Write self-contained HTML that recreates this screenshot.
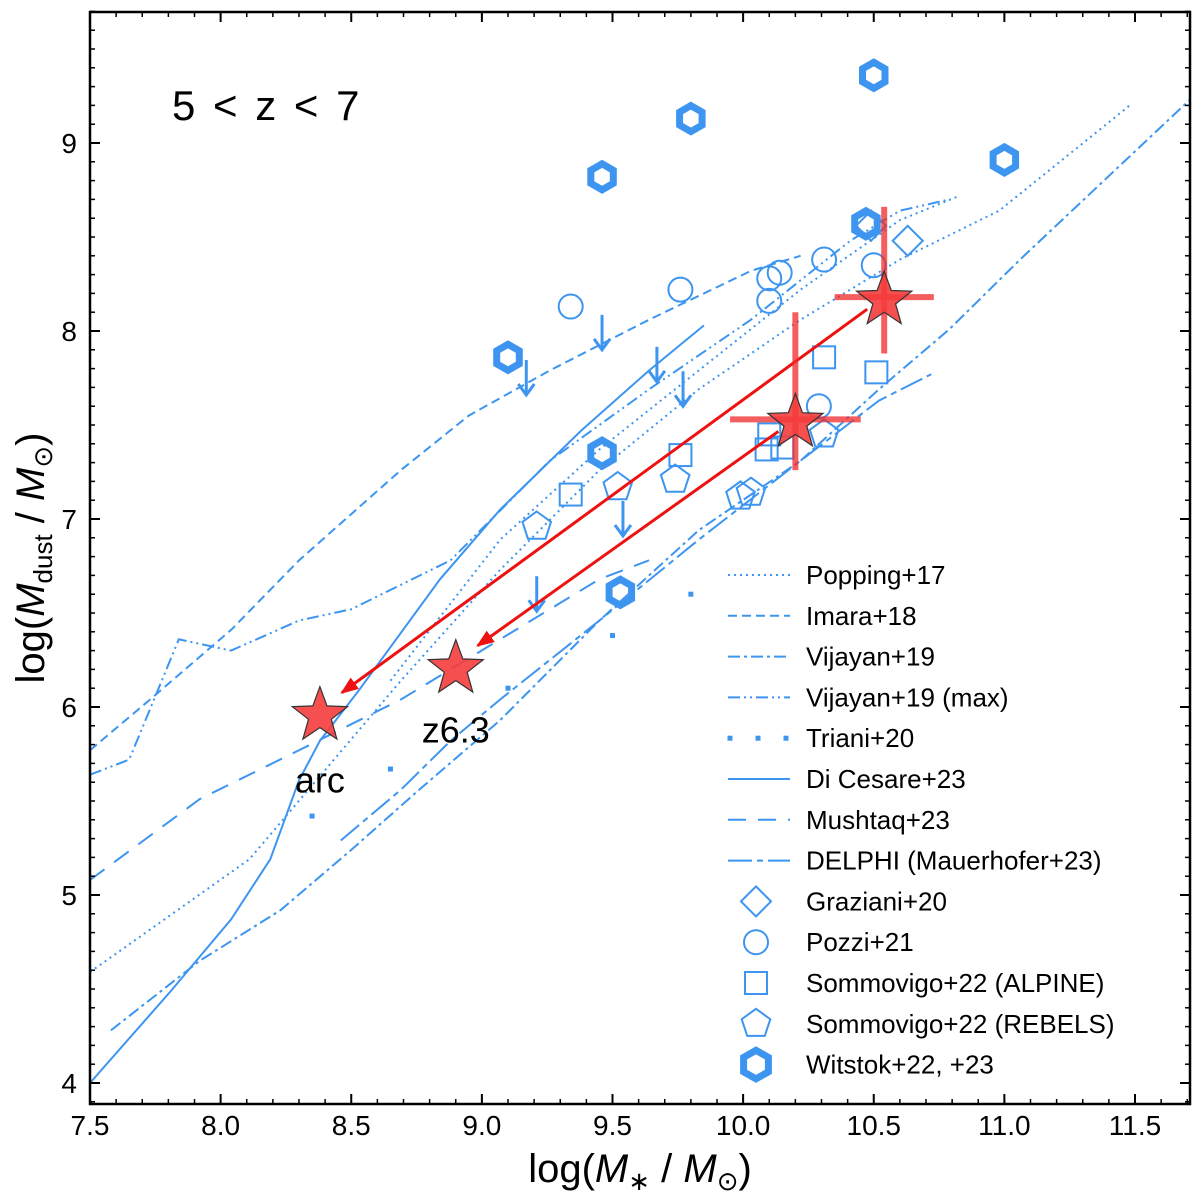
<!DOCTYPE html>
<html><head><meta charset="utf-8"><style>
body{margin:0;background:#fff;}
svg{display:block;font-family:"Liberation Sans","DejaVu Sans",sans-serif;}
</style></head><body>
<svg id="chart" width="1200" height="1198">
<rect x="0" y="0" width="1200" height="1198" fill="#fff"/>
<g id="plot"></g>
<rect x="90" y="12" width="1100" height="1092" fill="none" stroke="#000" stroke-width="2.5"/>
<text x="172" y="120" font-size="42" letter-spacing="3">5 &lt; z &lt; 7</text>
<text x="640" y="1182" font-size="40" text-anchor="middle">log(<tspan font-style="italic">M</tspan><tspan font-size="26" dy="8">∗</tspan><tspan dy="-8"> / </tspan><tspan font-style="italic">M</tspan><tspan font-size="26" dy="8">⊙</tspan><tspan dy="-8">)</tspan></text>
<text transform="translate(44,558) rotate(-90)" font-size="40" text-anchor="middle">log(<tspan font-style="italic">M</tspan><tspan font-size="26" dy="8">dust</tspan><tspan dy="-8"> / </tspan><tspan font-style="italic">M</tspan><tspan font-size="26" dy="8">⊙</tspan><tspan dy="-8">)</tspan></text>
</svg>
<script>
const xTicks=[7.5,8.0,8.5,9.0,9.5,10.0,10.5,11.0,11.5];
const xTickLabels=["7.5","8.0","8.5","9.0","9.5","10.0","10.5","11.0","11.5"];
const yTicks=[4,5,6,7,8,9];
const yTickLabels=["4","5","6","7","8","9"];
const poppingX=[7.5,8.11,8.69,9.07,9.45,9.83,10.22,10.60,10.98,11.48];
const poppingY=[4.59,5.19,6.14,6.73,7.26,7.69,8.06,8.38,8.64,9.20];
const popping2X=[8.65,9.07,9.45,9.83,10.22,10.60,10.83];
const popping2Y=[6.14,6.89,7.37,7.79,8.22,8.59,8.72];
const imaraX=[7.5,7.73,8.04,8.30,8.69,8.95,9.26,9.64,10.03,10.22];
const imaraY=[5.77,6.04,6.41,6.78,7.26,7.55,7.79,8.06,8.32,8.40];
const vijayanX=[7.58,7.92,8.23,8.50,8.76,9.07,9.45,9.83,10.22,10.52,10.79,11.06,11.71];
const vijayanY=[4.28,4.65,4.92,5.24,5.56,5.93,6.46,6.94,7.31,7.69,8.01,8.38,9.23];
const vmaxX=[7.5,7.65,7.84,8.04,8.30,8.50,8.88,9.26,9.64,10.03,10.41,10.60,10.79];
const vmaxY=[5.64,5.72,6.36,6.30,6.46,6.52,6.78,7.31,7.69,8.06,8.48,8.64,8.70];
const dicesareX=[7.5,7.81,8.04,8.19,8.30,8.38,8.53,8.84,9.07,9.38,9.64,9.85];
const dicesareY=[4.0,4.49,4.87,5.19,5.61,5.82,6.09,6.68,7.05,7.47,7.79,8.03];
const mushtaqX=[7.5,7.92,8.30,8.69,9.07,9.45,9.64];
const mushtaqY=[5.08,5.51,5.77,6.04,6.36,6.68,6.78];
const delphiX=[8.46,8.69,8.88,9.07,9.45,9.83,10.22,10.52,10.72];
const delphiY=[5.29,5.56,5.82,6.04,6.46,6.89,7.31,7.63,7.77];
const trianiX=[8.35,8.65,9.1,9.5,9.8];
const trianiY=[5.42,5.67,6.1,6.38,6.6];
const witstokX=[10.50,9.80,9.46,11.0,10.47,9.10,9.46,9.53];
const witstokY=[9.36,9.13,8.82,8.91,8.57,7.86,7.35,6.61];
const pozziX=[9.34,9.76,10.10,10.14,10.10,10.31,10.50,10.29];
const pozziY=[8.13,8.22,8.16,8.31,8.28,8.38,8.35,7.60];
const alpineX=[9.34,9.76,10.31,10.51,10.10,10.15,10.09];
const alpineY=[7.13,7.34,7.86,7.78,7.45,7.38,7.37];
const rebelsX=[9.21,9.52,9.74,9.99,10.03,10.31];
const rebelsY=[6.96,7.17,7.21,7.12,7.14,7.45];
const grazianiX=[10.49,10.63];
const grazianiY=[8.56,8.48];
const limitX=[9.46,9.17,9.67,9.77,9.54,9.21];
const limitY=[7.99,7.75,7.82,7.69,7.0,6.6];
const starX=[8.38,8.90,10.20,10.54];
const starY=[5.97,6.22,7.53,8.18];
const starErrX=[0,0,0.25,0.19];
const starErrYlo=[0,0,0.27,0.30];
const starErrYhi=[0,0,0.57,0.48];

const NS="http://www.w3.org/2000/svg";
const svg=document.getElementById('chart');
const plot=document.getElementById('plot');
const X=v=>90+(v-7.5)*261.25;
const Y=v=>143+(9-v)*188;
const BLUE="#3d95f0";
function mk(tag,attrs,parent){const e=document.createElementNS(NS,tag);for(const k in attrs)e.setAttribute(k,attrs[k]);(parent||plot).appendChild(e);return e;}

const defs=mk('defs',{},svg);
const cp=mk('clipPath',{id:'clip'},defs);
mk('rect',{x:90,y:12,width:1100,height:1092},cp);
plot.setAttribute('clip-path','url(#clip)');

for(let i=0;i<xTicks.length;i++){
  const x=X(xTicks[i]);
  const t=mk('line',{x1:x,x2:x,y1:1104,y2:1094,stroke:'#000','stroke-width':2},svg);
  
  
  mk('line',{x1:x,x2:x,y1:12,y2:22,stroke:'#000','stroke-width':2},svg);
  const l=mk('text',{x:x,y:1135,'font-size':28,'text-anchor':'middle'},svg);
  l.textContent=xTickLabels[i];
  
  
}
for(let v=7.5;v<11.75;v+=0.1){const x=X(v);mk('line',{x1:x,x2:x,y1:1104,y2:1099,stroke:'#000','stroke-width':1.5},svg);mk('line',{x1:x,x2:x,y1:12,y2:17,stroke:'#000','stroke-width':1.5},svg);}
for(let i=0;i<yTicks.length;i++){
  const y=Y(yTicks[i]);
  const t=mk('line',{x1:90,x2:100,y1:y,y2:y,stroke:'#000','stroke-width':2},svg);
  
  
  mk('line',{x1:1190,x2:1180,y1:y,y2:y,stroke:'#000','stroke-width':2},svg);
  const l=mk('text',{x:77,y:y+10,'font-size':28,'text-anchor':'end'},svg);
  l.textContent=yTickLabels[i];
  
  
}
for(let v=3.9;v<9.7;v+=0.1){const y=Y(v);mk('line',{x1:90,x2:95,y1:y,y2:y,stroke:'#000','stroke-width':1.5},svg);mk('line',{x1:1190,x2:1185,y1:y,y2:y,stroke:'#000','stroke-width':1.5},svg);}

function line(xs,ys,dash,name,w){
  const p=mk('polyline',{points:xs.map((v,i)=>X(v)+','+Y(ys[i])).join(' '),fill:'none',stroke:BLUE,'stroke-width':w||2,'stroke-dasharray':dash});
  
  
}
line(poppingX,poppingY,'2,4','popping-line');
line(popping2X,popping2Y,'2,4','popping-line-upper');
line(imaraX,imaraY,'9,5','imara-line');
line(vijayanX,vijayanY,'12,4,3,4','vijayan-line');
line(vmaxX,vmaxY,'12,4,2,4,2,4','vijayan-max-line');
line(dicesareX,dicesareY,'none','dicesare-line');
line(mushtaqX,mushtaqY,'18,12','mushtaq-line');
line(delphiX,delphiY,'24,5,6,5','delphi-line');
for(let i=0;i<trianiX.length;i++){
  const d=mk('rect',{x:X(trianiX[i])-2.5,y:Y(trianiY[i])-2.5,width:5,height:5,fill:BLUE});
  
  
}

function poly(cx,cy,n,r,rot){const pts=[];for(let k=0;k<n;k++){const a=rot+k*2*Math.PI/n;pts.push((cx+r*Math.cos(a)).toFixed(1)+','+(cy+r*Math.sin(a)).toFixed(1));}return pts.join(' ');}
function marker(kind,cx,cy,name,size){
  let e;
  const s=size||1;
  if(kind==='circle')e=mk('circle',{cx,cy,r:12*s,fill:'none',stroke:BLUE,'stroke-width':2});
  else if(kind==='square')e=mk('rect',{x:cx-11*s,y:cy-11*s,width:22*s,height:22*s,fill:'none',stroke:BLUE,'stroke-width':2});
  else if(kind==='pent')e=mk('polygon',{points:poly(cx,cy,5,15*s,-Math.PI/2),fill:'none',stroke:BLUE,'stroke-width':2});
  else if(kind==='diamond')e=mk('polygon',{points:poly(cx,cy,4,15*s,-Math.PI/2),fill:'none',stroke:BLUE,'stroke-width':2});
  else if(kind==='hex')e=mk('polygon',{points:poly(cx,cy,6,13*s,-Math.PI/2),fill:'none',stroke:BLUE,'stroke-width':7});
  
  
  return e;
}
for(let i=0;i<pozziX.length;i++)marker('circle',X(pozziX[i]),Y(pozziY[i]),'pozzi-point');
for(let i=0;i<alpineX.length;i++)marker('square',X(alpineX[i]),Y(alpineY[i]),'alpine-point');
for(let i=0;i<rebelsX.length;i++)marker('pent',X(rebelsX[i]),Y(rebelsY[i]),'rebels-point');
for(let i=0;i<grazianiX.length;i++)marker('diamond',X(grazianiX[i]),Y(grazianiY[i]),'graziani-point');
for(let i=0;i<witstokX.length;i++)marker('hex',X(witstokX[i]),Y(witstokY[i]),'witstok-point');
for(let i=0;i<limitX.length;i++){
  const x=X(limitX[i]),y=Y(limitY[i]);
  const g=mk('g',{});
  
  
  mk('line',{x1:x,x2:x,y1:y-18,y2:y+16,stroke:BLUE,'stroke-width':3},g);
  mk('polyline',{points:`${x-8},${y+6} ${x},${y+17} ${x+8},${y+6}`,fill:'none',stroke:BLUE,'stroke-width':3},g);
}
const ah=mk('marker',{id:'ah',markerWidth:18,markerHeight:14,refX:16,refY:7,orient:'auto',markerUnits:'userSpaceOnUse'},defs);
mk('polygon',{points:'0,0 18,7 0,14',fill:'#ee1111'},ah);
function redArrow(a,b,name){const l=mk('line',{x1:X(starX[a])-17,y1:Y(starY[a])+12,x2:X(starX[b])+22,y2:Y(starY[b])-20,stroke:'#ee1111','stroke-width':3,'marker-end':'url(#ah)'});}
redArrow(3,0,'arc-shift-arrow');
redArrow(2,1,'z63-shift-arrow');
for(let i=0;i<starX.length;i++){
  const x=X(starX[i]),y=Y(starY[i]);
  if(starErrX[i]>0){
    const g=mk('g',{});
    
    
    mk('line',{x1:X(starX[i]-starErrX[i]),x2:X(starX[i]+starErrX[i]),y1:y,y2:y,stroke:'rgba(240,40,40,0.75)','stroke-width':6},g);
    mk('line',{x1:x,x2:x,y1:Y(starY[i]+starErrYhi[i]),y2:Y(starY[i]-starErrYlo[i]),stroke:'rgba(240,40,40,0.75)','stroke-width':6},g);
  }
  const pts=[];for(let k=0;k<10;k++){const r=k%2?12:29;const a=-Math.PI/2+k*Math.PI/5;pts.push((x+r*Math.cos(a)).toFixed(1)+','+(y+r*Math.sin(a)+3).toFixed(1));}
  const s=mk('polygon',{points:pts.join(' '),fill:'rgba(245,60,60,0.9)',stroke:'#333','stroke-width':1.2});
  
  
}
const t1=mk('text',{x:X(starX[0]),y:Y(starY[0])+80,'font-size':36,'text-anchor':'middle'},svg);t1.textContent='arc';


const t2=mk('text',{x:X(starX[1]),y:Y(starY[1])+77,'font-size':36,'text-anchor':'middle'},svg);t2.textContent='z6.3';



const legNames=["Popping+17","Imara+18","Vijayan+19","Vijayan+19 (max)","Triani+20","Di Cesare+23","Mushtaq+23","DELPHI (Mauerhofer+23)","Graziani+20","Pozzi+21","Sommovigo+22 (ALPINE)","Sommovigo+22 (REBELS)","Witstok+22, +23"];
const legKinds=['2,4','9,5','12,4,3,4','12,4,2,4,2,4','dots','none','18,12','24,5,6,5','diamond','circle','square','pent','hex'];
for(let i=0;i<legNames.length;i++){
  const y=575+i*40.8;
  const g=mk('g',{},svg);
  
  
  const k=legKinds[i];
  if(k==='dots'){for(let j=0;j<3;j++)mk('rect',{x:730+j*28-2.5,y:y-2.5,width:5,height:5,fill:BLUE},g);}
  else if(['diamond','circle','square','pent','hex'].includes(k)){const m=marker(k,756,y,'legend-marker',k==='hex'?1.1:1);g.appendChild(m);}
  else mk('line',{x1:728,x2:790,y1:y,y2:y,stroke:BLUE,'stroke-width':2,'stroke-dasharray':k},g);
  const t=mk('text',{x:806,y:y+9,'font-size':26},g);t.textContent=legNames[i];
}
</script>
</body></html>
